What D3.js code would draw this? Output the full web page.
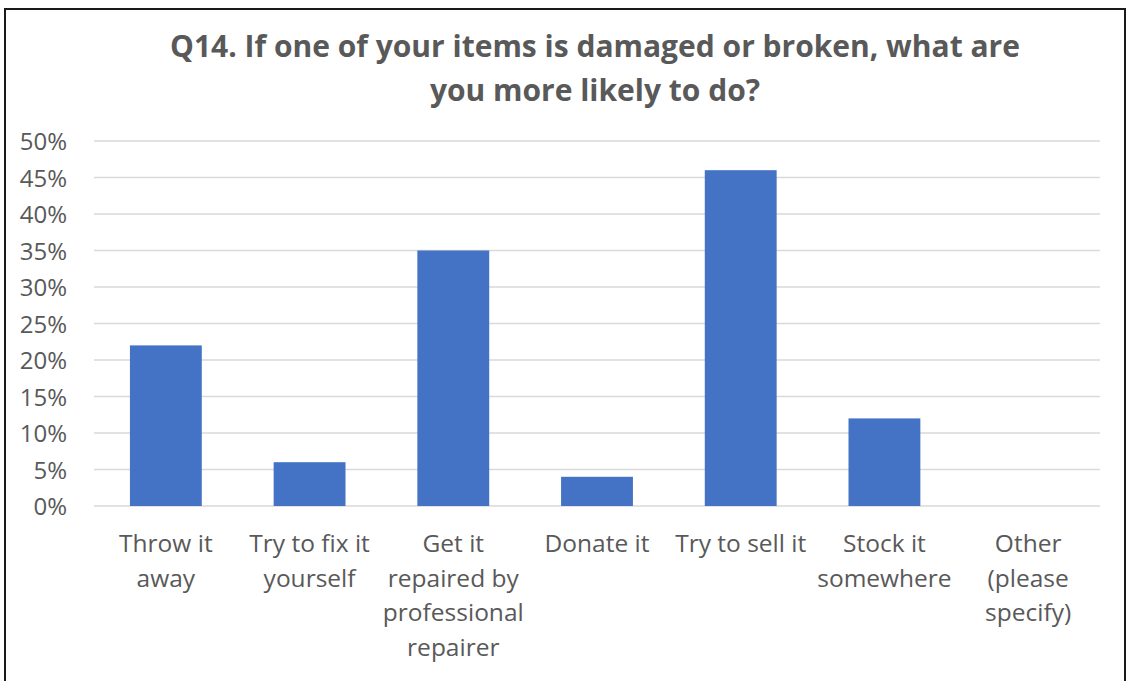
<!DOCTYPE html>
<html><head><meta charset="utf-8">
<script src="https://cdn.jsdelivr.net/npm/d3@7"></script>
<style>body{margin:0;background:#fff}svg{display:block}text{font-family:"Open Sans",Lato,sans-serif}</style>
</head><body><svg id="c" width="1127" height="681"></svg>
<script>
const categories = [["Throw it","away"],["Try to fix it","yourself"],["Get it","repaired by","professional","repairer"],["Donate it"],["Try to sell it"],["Stock it","somewhere"],["Other","(please","specify)"]];
const values = [0.22, 0.06, 0.35, 0.04, 0.46, 0.12, 0];
const yTicks = [0,0.05,0.10,0.15,0.20,0.25,0.30,0.35,0.40,0.45,0.50];
const titleLines = ["Q14. If one of your items is damaged or broken, what are","you more likely to do?"];

const svg = d3.select("#c");
svg.append("rect").attr("x",5).attr("y",9).attr("width",1120).attr("height",690)
  .attr("fill","#fff").attr("stroke","#1a1a1a").attr("stroke-width",2);

const x = d3.scaleBand().domain(d3.range(values.length)).range([94,1100]).paddingInner(0.5).paddingOuter(0.25);
const y = d3.scaleLinear().domain([0,0.5]).range([506,141]);

const grid = svg.append("g");
grid.selectAll("line").data(yTicks).join("line")
  .attr("x1",94).attr("x2",1100).attr("y1",d=>y(d)).attr("y2",d=>y(d))
  .attr("stroke","#d9d9d9").attr("stroke-width",1.5);

const yAxis = svg.append("g").attr("transform","translate(67,0)")
  .call(d3.axisLeft(y).tickValues(yTicks).tickFormat(d3.format(".0%")).tickSize(0).tickPadding(0));
yAxis.select(".domain").remove();
yAxis.selectAll("text").attr("fill","#595959").style("font-size","24px").attr("dy","0.36em");

svg.append("g").selectAll("rect").data(values).join("rect")
  .attr("x",(d,i)=>x(i)).attr("width",x.bandwidth())
  .attr("y",d=>y(d)).attr("height",d=>y(0)-y(d))
  .attr("fill","#4472c4");

const xl = svg.append("g");
categories.forEach((lines,i)=>{
  const t = xl.append("text").attr("text-anchor","middle").attr("fill","#595959").style("font-size","24.5px");
  lines.forEach((ln,j)=>t.append("tspan").attr("x",x(i)+x.bandwidth()/2).attr("y",552+j*34.7).text(ln));
});

const tt = svg.append("text").attr("text-anchor","middle").attr("fill","#595959")
  .style("font-size","30px").style("font-weight","bold");
titleLines.forEach((ln,j)=>tt.append("tspan").attr("x",595).attr("y",57+j*44).text(ln));
</script></body></html>
